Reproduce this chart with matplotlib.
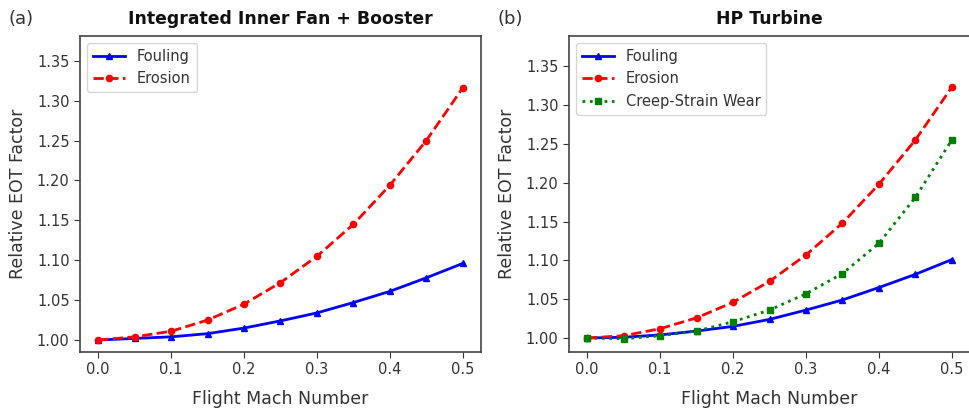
import matplotlib
matplotlib.use("Agg")
import matplotlib.pyplot as plt

mach = [0.0, 0.05, 0.1, 0.15, 0.2, 0.25, 0.3, 0.35, 0.4, 0.45, 0.5]

fan_fouling = [1.000, 1.002, 1.004, 1.008, 1.015, 1.024, 1.034, 1.047, 1.061, 1.078, 1.096]
fan_erosion = [1.000, 1.004, 1.011, 1.025, 1.045, 1.072, 1.105, 1.145, 1.194, 1.250, 1.316]

hpt_fouling = [1.000, 1.001, 1.004, 1.009, 1.015, 1.024, 1.036, 1.049, 1.065, 1.082, 1.101]
hpt_erosion = [1.000, 1.003, 1.012, 1.026, 1.046, 1.073, 1.107, 1.148, 1.198, 1.255, 1.323]
hpt_creep = [1.000, 0.999, 1.003, 1.009, 1.021, 1.036, 1.057, 1.083, 1.122, 1.181, 1.255]

titles = ["Integrated Inner Fan + Booster", "HP Turbine"]
panel_labels = ["(a)", "(b)"]
yticks = [1.00, 1.05, 1.10, 1.15, 1.20, 1.25, 1.30, 1.35]
xticks = [0.0, 0.1, 0.2, 0.3, 0.4, 0.5]

plt.rcParams['font.family'] = ['DejaVu Sans']
txtc = '#333333'
fig = plt.figure(figsize=(9.7, 4.08), dpi=100)
W, H = 970, 408
ax1 = fig.add_axes([80 / W, 1 - 352 / H, (481 - 80) / W, (352 - 36) / H])
ax2 = fig.add_axes([569 / W, 1 - 352 / H, (970 - 569) / W, (352 - 36) / H])

lw = 2
ms = 4.5
ax1.plot(mach, fan_fouling, color='blue', linestyle='-', marker='^', lw=lw, ms=ms, label='Fouling')
ax1.plot(mach, fan_erosion, color='red', linestyle='--', marker='o', lw=lw, ms=ms, label='Erosion')

ax2.plot(mach, hpt_fouling, color='blue', linestyle='-', marker='^', lw=lw, ms=ms, label='Fouling')
ax2.plot(mach, hpt_erosion, color='red', linestyle='--', marker='o', lw=lw, ms=ms, label='Erosion')
ax2.plot(mach, hpt_creep, color='green', linestyle=':', marker='s', lw=lw, ms=ms, label='Creep-Strain Wear')

ylims = [(0.985, 1.381), (0.982, 1.389)]
for ax, t, yl, pl, px in zip([ax1, ax2], titles, ylims, panel_labels, [8, 498]):
    ax.set_xlim(-0.025, 0.525)
    ax.set_ylim(*yl)
    ax.set_xticks(xticks)
    ax.set_yticks(yticks)
    ax.set_yticklabels([f"{v:.2f}" for v in yticks])
    ax.tick_params(labelsize=10.5, colors=txtc, length=4)
    for s in ax.spines.values():
        s.set_color('#444444')
        s.set_linewidth(1.2)
    ax.set_title(t, fontsize=12.4, fontweight='bold', pad=9, color='#111111')
    ax.set_xlabel('Flight Mach Number', fontsize=12.5, color=txtc, labelpad=9)
    ax.set_ylabel('Relative EOT Factor', fontsize=12.5, color=txtc, labelpad=7)
    ax.legend(loc='upper left', fontsize=10.5, labelcolor=txtc, handlelength=2.2)
    fig.text(px / W, 1 - 10 / H, pl, fontsize=13, color=txtc, ha='left', va='top')

fig.savefig('out.png', dpi=100)
